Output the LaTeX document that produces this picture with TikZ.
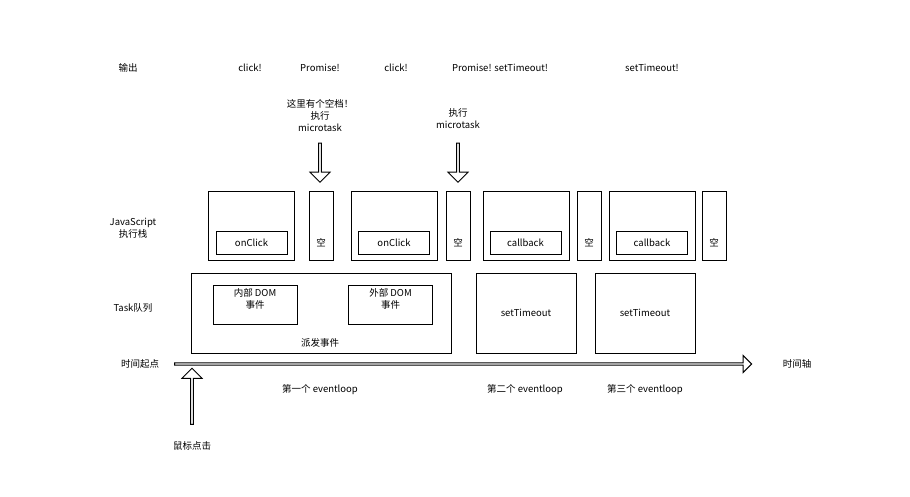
\documentclass[tikz,border=0pt]{standalone}
\usepackage{fontspec}
\setmainfont{Noto Sans CJK SC}
\usetikzlibrary{shapes.arrows}
\begin{document}
\begin{tikzpicture}[x=1pt,y=-1pt,font=\fontsize{9.5}{12}\selectfont,line width=0.8pt]
			\tikzset{
				stackBox/.style={rectangle, draw, minimum width=86pt, minimum height=69pt, inner sep=0pt},
				gapBox/.style={rectangle, draw, minimum width=24pt, minimum height=69pt, inner sep=0pt},
				fnBox/.style={rectangle, draw, minimum width=71pt, minimum height=23pt, inner sep=0pt},
				taskBox/.style={rectangle, draw, minimum width=100pt, minimum height=80pt, inner sep=0pt},
				evtBox/.style={rectangle, draw, minimum width=84pt, minimum height=39pt, inner sep=0pt, align=center, text height=9pt},
				hollowArrow/.style={single arrow, draw, fill=white, minimum height=#1, minimum width=20pt, single arrow head extend=3pt, single arrow tip angle=90, inner sep=0pt, line width=1pt}
			}
			\useasboundingbox (0,0) rectangle (910,497);

			\node(outLabel) at (128,68){输出};
			\node(out1) at (250,68){click!};
			\node(out2) at (320,68){Promise!};
			\node(out3) at (396,68){click!};
			\node(out4) at (500,68){Promise! setTimeout!};
			\node(out5) at (652,68){setTimeout!};

			\node[align=center](note1) at (320,116){这里有个空档！\\执行\\microtask};
			\node[align=center](note2) at (458,119){执行\\microtask};
			\node[hollowArrow=39pt, rotate=-90](down1) at (320,162){};
			\node[hollowArrow=39pt, rotate=-90](down2) at (458,162){};

			\node[align=center](stackLabel) at (133,228){JavaScript\\执行栈};
			\node[stackBox](stack1) at (251,225.5){};
			\node[fnBox](fn1) at (251.5,242.5){onClick};
			\node[gapBox](gap1) at (321,225.5){};
			\node(gap1Text) at (321,243){空};
			\node[stackBox](stack2) at (394,225.5){};
			\node[fnBox](fn2) at (394,242.5){onClick};
			\node[gapBox](gap2) at (458,225.5){};
			\node(gap2Text) at (458,243){空};
			\node[stackBox](stack3) at (526,225.5){};
			\node[fnBox](fn3) at (525.5,242.5){callback};
			\node[gapBox](gap3) at (589,225.5){};
			\node(gap3Text) at (589,243){空};
			\node[stackBox](stack4) at (652,225.5){};
			\node[fnBox](fn4) at (652,242.5){callback};
			\node[gapBox](gap4) at (714,225.5){};
			\node(gap4Text) at (714,243){空};

			\node(taskLabel) at (133,308){Task队列};
			\node[taskBox, minimum width=260pt](task1) at (321,313){};
			\node[evtBox](evt1) at (255,304.5){内部 DOM\\事件};
			\node[evtBox](evt2) at (390.5,304.5){外部 DOM\\事件};
			\node(dispatch) at (320,343){派发事件};
			\node[taskBox](task2) at (526,313){setTimeout};
			\node[taskBox](task3) at (645,313){setTimeout};

			\node(startLabel) at (140,364){时间起点};
			\node[hollowArrow=577pt, minimum width=17pt, anchor=west](timeline) at (174,364){};
			\node(axisLabel) at (797,364){时间轴};
			\node[hollowArrow=56pt, rotate=90](up1) at (192,397){};
			\node(click) at (192,446){鼠标点击};

			\node(loop1) at (320,390){第一个 eventloop};
			\node(loop2) at (525,390){第二个 eventloop};
			\node(loop3) at (645,390){第三个 eventloop};
		\end{tikzpicture}
\end{document}
